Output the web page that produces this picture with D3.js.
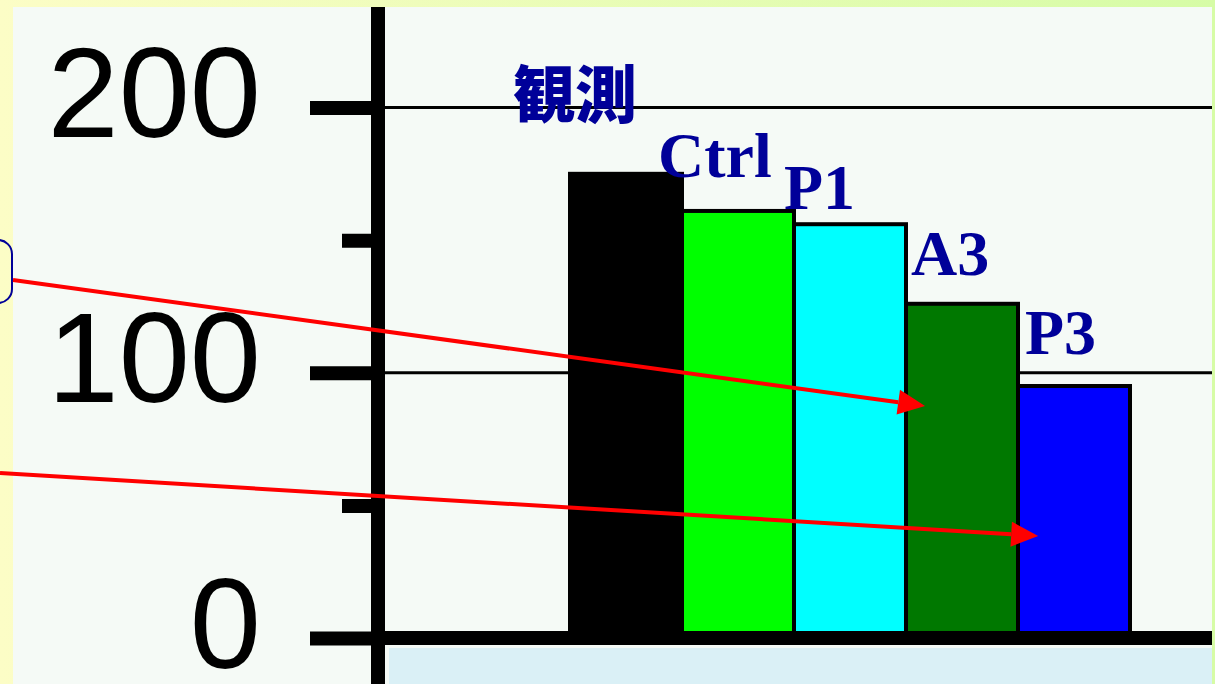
<!DOCTYPE html>
<html>
<head>
<meta charset="utf-8">
<script src="https://cdn.jsdelivr.net/npm/d3@7"></script>
<style>
  html, body { margin: 0; padding: 0; background: #fcfdc8; }
  svg { display: block; }
</style>
</head>
<body>
<svg id="chart" width="1215" height="684"></svg>
<script>
// Categories and values
const categories = ["観測", "Ctrl", "P1", "A3", "P3"];
const values = [175, 161, 156, 126, 95];
const barColors = ["#000000", "#00ff00", "#00ffff", "#007800", "#0000ff"];
const majorTicks = [0, 100, 200];
const minorTicks = [50, 150];
const gridValues = [100, 200];

// Label placement relative to each bar's top-left corner
const labelOffsets = [[-57, -56], [-24, -34], [-10, -15], [5, -29], [7, -32]];

// Arrow annotations: start in page pixels, tip in data space
const arrows = [
  { x0: 13, y0: 280, cat: "A3", frac: 0.17, value: 87.5 },
  { x0: 0, y0: 473, cat: "P3", frac: 0.18, value: 38.5 }
];

const W = 1215, H = 684;
const svg = d3.select("#chart");

// Background frame gradient
const defs = svg.append("defs");
const grad = defs.append("linearGradient").attr("id", "frameGrad")
  .attr("x1", "0").attr("x2", "1").attr("y1", "0").attr("y2", "0");
grad.append("stop").attr("offset", "0").attr("stop-color", "#fcfdc6");
grad.append("stop").attr("offset", "1").attr("stop-color", "#d6fca6");
svg.append("rect").attr("width", W).attr("height", H).attr("fill", "url(#frameGrad)");

// Slide panel
const panel = { x: 13, y: 7, x1: 1212, y1: H };
svg.append("rect").attr("x", panel.x).attr("y", panel.y)
  .attr("width", panel.x1 - panel.x).attr("height", panel.y1 - panel.y)
  .attr("fill", "#f5faf6");

// Partial callout box cut at the left edge
svg.append("rect").attr("x", -120).attr("y", 240).attr("width", 132).attr("height", 63)
  .attr("rx", 14).attr("ry", 14).attr("fill", "none")
  .attr("stroke", "#000099").attr("stroke-width", 2);

// Scales
const axisX = 378;
const y = d3.scaleLinear().domain([0, 200]).range([638, 107.5]);
const x = d3.scaleBand().domain(categories).range([570, 1130]).padding(0);

// Light blue strip under the plot
svg.append("rect").attr("x", 389).attr("y", 648)
  .attr("width", panel.x1 - 389).attr("height", H - 648)
  .attr("fill", "#daf0f6");

// Gridlines
svg.append("g").selectAll("line").data(gridValues).join("line")
  .attr("x1", axisX).attr("x2", panel.x1)
  .attr("y1", d => y(d)).attr("y2", d => y(d))
  .attr("stroke", "#000").attr("stroke-width", 3);

// Bars
svg.append("g").selectAll("rect").data(categories).join("rect")
  .attr("x", d => x(d))
  .attr("y", (d, i) => y(values[i]))
  .attr("width", x.bandwidth())
  .attr("height", (d, i) => y(0) - y(values[i]))
  .attr("fill", (d, i) => barColors[i])
  .attr("stroke", "#000").attr("stroke-width", 4);

// Y axis: thick line with major and minor ticks
const yAxis = svg.append("g").attr("transform", `translate(${axisX},0)`)
  .call(d3.axisLeft(y).tickValues(majorTicks).tickSize(68).tickFormat(d3.format("d")));
yAxis.select(".domain").remove();
yAxis.selectAll(".tick line").attr("stroke", "#000").attr("stroke-width", 14);
yAxis.selectAll(".tick text")
  .attr("x", -117).attr("dy", 29)
  .attr("font-family", "'Liberation Sans', Arial, sans-serif")
  .attr("font-size", 128).attr("fill", "#000");

const yMinor = svg.append("g").attr("transform", `translate(${axisX},0)`)
  .call(d3.axisLeft(y).tickValues(minorTicks).tickSize(36).tickFormat(""));
yMinor.select(".domain").remove();
yMinor.selectAll(".tick line").attr("stroke", "#000").attr("stroke-width", 14);

svg.append("line").attr("x1", axisX).attr("x2", axisX)
  .attr("y1", panel.y).attr("y2", H)
  .attr("stroke", "#000").attr("stroke-width", 14);

// Baseline
svg.append("line").attr("x1", axisX).attr("x2", panel.x1)
  .attr("y1", y(0)).attr("y2", y(0))
  .attr("stroke", "#000").attr("stroke-width", 14);

// Series labels
svg.append("g").selectAll("text").data(categories).join("text")
  .attr("x", (d, i) => x(d) + labelOffsets[i][0])
  .attr("y", (d, i) => y(values[i]) + labelOffsets[i][1])
  .attr("font-family", (d, i) => i === 0
    ? "'Noto Sans CJK JP', sans-serif"
    : "'Liberation Serif', 'Times New Roman', serif")
  .attr("font-weight", (d, i) => i === 0 ? 900 : "bold")
  .attr("font-size", (d, i) => i === 0 ? 62 : 64)
  .attr("fill", "#000099")
  .text(d => d);

// Red arrows
const ag = svg.append("g");
arrows.forEach(a => {
  const tx = x(a.cat) + a.frac * x.bandwidth();
  const ty = y(a.value);
  const ang = Math.atan2(ty - a.y0, tx - a.x0);
  const len = 27, half = 12.5;
  const bx = tx - len * Math.cos(ang), by = ty - len * Math.sin(ang);
  ag.append("line").attr("x1", a.x0).attr("y1", a.y0).attr("x2", bx).attr("y2", by)
    .attr("stroke", "#ff0000").attr("stroke-width", 4);
  const px = -Math.sin(ang) * half, py = Math.cos(ang) * half;
  ag.append("polygon")
    .attr("points", [[tx, ty], [bx + px, by + py], [bx - px, by - py]].map(p => p.join(",")).join(" "))
    .attr("fill", "#ff0000");
});
</script>
</body>
</html>
